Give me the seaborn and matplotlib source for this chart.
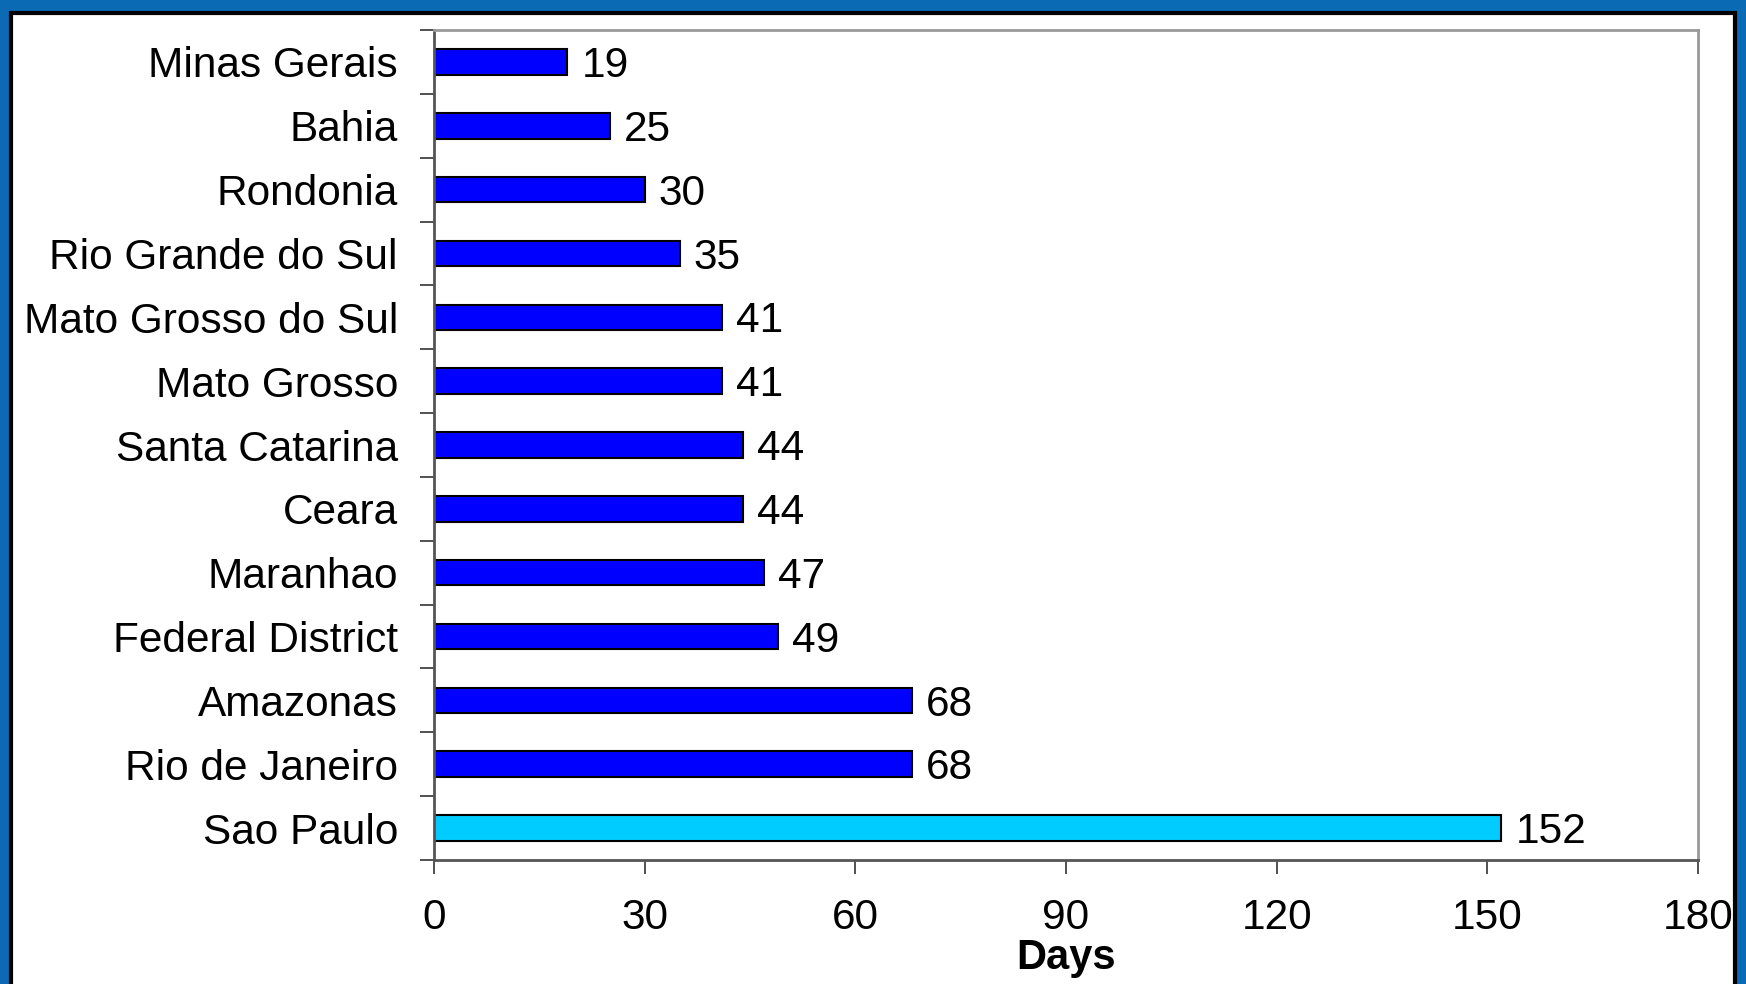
import matplotlib
matplotlib.use("Agg")
import matplotlib.pyplot as plt
import seaborn as sns
import pandas as pd
from matplotlib.patches import Rectangle

# dados
states = ['Minas Gerais', 'Bahia', 'Rondonia', 'Rio Grande do Sul',
          'Mato Grosso do Sul', 'Mato Grosso', 'Santa Catarina', 'Ceara',
          'Maranhao', 'Federal District', 'Amazonas', 'Rio de Janeiro',
          'Sao Paulo']
days = [19, 25, 30, 35, 41, 41, 44, 44, 47, 49, 68, 68, 152]
highlight = [False] * 12 + [True]
x_ticks = [0, 30, 60, 90, 120, 150, 180]

sns.set_theme(style="white")
plt.rcParams['font.family'] = ['Liberation Sans', 'DejaVu Sans']
plt.rcParams['text.color'] = 'black'
plt.rcParams['xtick.labelcolor'] = 'black'
plt.rcParams['ytick.labelcolor'] = 'black'
plt.rcParams['axes.labelcolor'] = 'black'

df = pd.DataFrame({'state': states, 'days': days,
                   'grupo': ['sp' if h else 'outros' for h in highlight]})

fig = plt.figure(figsize=(17.46, 9.84), dpi=100)
fig.patch.set_facecolor('#0a6ab4')
# painel branco com contorno preto dentro da moldura azul
fig.patches.append(Rectangle((11 / 1746, -0.05), 1 - 22 / 1746, 1.05 - 13 / 984,
                             transform=fig.transFigure, facecolor='white',
                             edgecolor='black', linewidth=3, zorder=-5))

ax = fig.add_axes([0.2486, 0.126, 0.9725 - 0.2486, 0.9695 - 0.126])
ax.set_zorder(2)
sns.barplot(data=df, x='days', y='state', hue='grupo', orient='h',
            palette={'outros': '#0000FF', 'sp': '#00CCFF'}, width=0.4,
            saturation=1, edgecolor='black', linewidth=1.5, legend=False,
            dodge=False, ax=ax)

for cont in ax.containers:
    anns = ax.bar_label(cont, padding=10, fontsize=30.5)
    for a in anns:
        a.xyann = (10, -3)

ax.set_xlim(0, 180)
ax.set_ylim(len(states) - 0.5, -0.5)
ax.set_xticks(x_ticks)
ax.set_xticklabels([str(t) for t in x_ticks], fontsize=30.5)
ax.set_yticks(range(len(states)))
ax.set_yticklabels(states, fontsize=30.5)
ax.set_yticks([i - 0.5 for i in range(len(states) + 1)], minor=True)
ax.tick_params(axis='y', which='major', length=0, pad=26)
ax.tick_params(axis='y', which='minor', length=10, width=1.2, color='#333333', left=True)
ax.tick_params(axis='x', which='major', length=10, width=1.2, color='#333333',
               bottom=True, pad=17)
ax.set_ylabel('')
ax.set_xlabel('Days', fontsize=30, fontweight='bold', labelpad=0)

for side in ['top', 'right']:
    ax.spines[side].set_color('#999999')
    ax.spines[side].set_linewidth(2)
for side in ['left', 'bottom']:
    ax.spines[side].set_color('#555555')
    ax.spines[side].set_linewidth(2)

fig.savefig('out.png', dpi=100, facecolor=fig.get_facecolor())
